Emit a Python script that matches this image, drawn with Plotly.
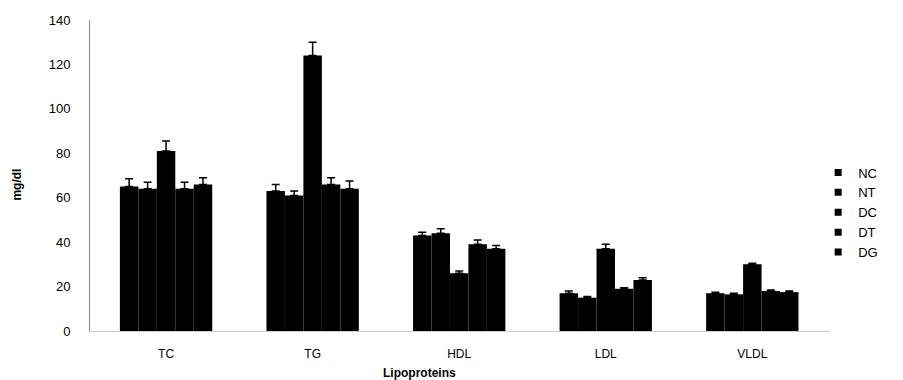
import plotly.graph_objects as go

categories = ["TC", "TG", "HDL", "LDL", "VLDL"]
groups = ["NC", "NT", "DC", "DT", "DG"]

nc = [65, 63, 43, 17, 17]
nt = [64, 61, 44, 15, 16.5]
dc = [81, 124, 26, 37, 30]
dt = [64, 66, 39, 19, 18]
dg = [66, 64, 37, 23, 17.5]

nc_err = [3.5, 3, 1.5, 1, 0.5]
nt_err = [3, 2, 2, 0.5, 0.5]
dc_err = [4.5, 6, 1, 2, 0.5]
dt_err = [3, 3, 2, 0.5, 0.5]
dg_err = [3, 3.5, 1.5, 1, 0.5]

series = [nc, nt, dc, dt, dg]
errors = [nc_err, nt_err, dc_err, dt_err, dg_err]

fig = go.Figure()
for name, vals, errs in zip(groups, series, errors):
    fig.add_trace(go.Bar(
        name=name, x=categories, y=vals, legendgroup=name, showlegend=False,
        marker=dict(color="black", line=dict(width=0)),
        error_y=dict(type="data", array=errs, visible=True,
                     color="black", thickness=1.5, width=4, symmetric=False,
                     arrayminus=[0]*len(errs)),
    ))
# legend entries with small rounded markers like the reference
for name in groups:
    fig.add_trace(go.Scatter(
        name=name, x=[None], y=[None], mode="markers", legendgroup=name,
        marker=dict(symbol="square", size=7, color="black"),
        showlegend=True,
    ))

font_family = "Liberation Sans, Arial, sans-serif"
fig.update_layout(
    width=903, height=380,
    barmode="group", bargap=0.37, bargroupgap=0,
    plot_bgcolor="white", paper_bgcolor="white",
    margin=dict(l=90, r=73, t=20, b=49, autoexpand=False),
    font=dict(family=font_family, size=13, color="black"),
    showlegend=True,
    legend=dict(x=0.984, y=0.381, xanchor="left", yanchor="middle",
                font=dict(size=13, color="black"),
                itemwidth=30, tracegroupgap=0, bgcolor="rgba(0,0,0,0)"),
    xaxis=dict(range=[-0.519, 4.53], showgrid=False, zeroline=False,
               showline=True, linecolor="#cccccc", linewidth=1,
               automargin=False, ticks="", ticklabelstandoff=12,
               tickfont=dict(size=12, color="black")),
    yaxis=dict(range=[0, 140], dtick=20, showgrid=False, zeroline=False,
               showline=True, linecolor="#888888", linewidth=1,
               automargin=False, ticks="", ticklabelstandoff=16,
               tickfont=dict(size=13, color="black")),
    annotations=[
        dict(text="<b>mg/dl</b>", xref="paper", yref="paper", x=-0.099, y=0.47,
             xanchor="center", yanchor="middle",
             textangle=-90, showarrow=False, font=dict(size=12, color="black")),
        dict(text="<b>Lipoproteins</b>", xref="paper", yref="paper", x=0.445, y=-0.135,
             xanchor="center", yanchor="middle",
             showarrow=False, font=dict(size=12, color="black")),
    ],
)

fig.write_html("out.html", config={"displayModeBar": False},
               post_script="document.body.style.margin='0';document.body.style.overflow='hidden';")
